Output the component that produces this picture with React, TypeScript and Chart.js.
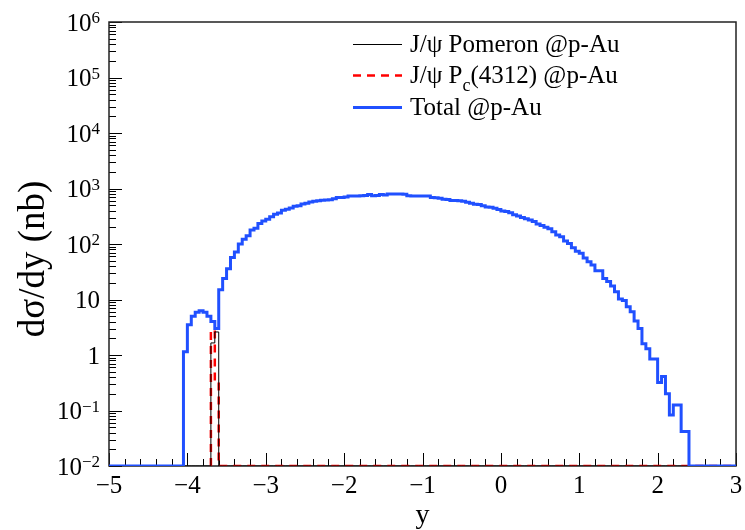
import React, { useEffect, useRef } from 'react';
import { Chart, registerables } from 'chart.js';

Chart.register(...registerables);

// ---------- data ----------
const BIN_START = -5;
const BIN_WIDTH = 0.05;
const Y_FLOOR = 0.01;
const Y_CEIL = 1e6;
const X_MIN = -5;
const X_MAX = 3;

// 160 bins, left edges -5.00 ... 2.95 (dσ/dy in nb)
const totalValues: number[] = [
  0, 0, 0, 0, 0, 0, 0, 0, 0, 0,
  0, 0, 0, 0, 0, 0, 0, 0, 0, 1.15,
  3.5, 5.0, 5.9, 6.3, 5.9, 5.0, 4.0, 3.0, 15, 24,
  36, 57, 72, 100, 122, 141, 178, 192, 233, 259,
  278, 309, 343, 362, 405, 422, 446, 480, 490, 526,
  540, 571, 587, 600, 615, 620, 625, 655, 685, 690,
  700, 730, 735, 735, 738, 745, 780, 740, 745, 780,
  760, 795, 795, 795, 795, 790, 740, 735, 735, 735,
  735, 730, 690, 680, 670, 640, 635, 610, 605, 600,
  590, 565, 545, 520, 515, 490, 465, 460, 440, 420,
  395, 385, 365, 335, 320, 300, 285, 270, 255, 230,
  215, 200, 188, 167, 145, 135, 113, 102, 86, 74,
  68, 56, 48, 42, 33, 33, 24, 21, 17.5, 13.8,
  10.2, 9.6, 7.4, 6.0, 4.1, 3.0, 1.6, 1.3, 0.85, 0.85,
  0.32, 0.41, 0.2, 0.083, 0.125, 0.125, 0.042, 0.042, 0, 0,
  0, 0, 0, 0, 0, 0, 0, 0, 0, 0,
];

const pomeronValues: number[] = [
  0, 0, 0, 0, 0, 0, 0, 0, 0, 0,
  0, 0, 0, 0, 0, 0, 0, 0, 0, 0,
  0, 0, 0, 0, 0, 0, 1.65, 2.6, 0, 0,
  0, 0, 0, 0, 0, 0, 0, 0, 0, 0,
  0, 0, 0, 0, 0, 0, 0, 0, 0, 0,
  0, 0, 0, 0, 0, 0, 0, 0, 0, 0,
  0, 0, 0, 0, 0, 0, 0, 0, 0, 0,
  0, 0, 0, 0, 0, 0, 0, 0, 0, 0,
  0, 0, 0, 0, 0, 0, 0, 0, 0, 0,
  0, 0, 0, 0, 0, 0, 0, 0, 0, 0,
  0, 0, 0, 0, 0, 0, 0, 0, 0, 0,
  0, 0, 0, 0, 0, 0, 0, 0, 0, 0,
  0, 0, 0, 0, 0, 0, 0, 0, 0, 0,
  0, 0, 0, 0, 0, 0, 0, 0, 0, 0,
  0, 0, 0, 0, 0, 0, 0, 0, 0, 0,
  0, 0, 0, 0, 0, 0, 0, 0, 0, 0,
];

const pcValues: (number | null)[] = [
  null, null, null, null, null, null, null, null, null, null,
  null, null, null, null, null, null, null, null, null, null,
  null, null, null, null, null, null, 2.8, 0.33, 0, 0,
  0, 0, 0, 0, 0, 0, 0, 0, 0, 0,
  0, 0, 0, 0, 0, 0, 0, 0, 0, 0,
  0, 0, 0, 0, 0, 0, 0, 0, 0, 0,
  0, 0, 0, 0, 0, 0, 0, 0, 0, 0,
  0, 0, 0, 0, 0, 0, 0, 0, 0, 0,
  0, 0, 0, 0, 0, 0, 0, 0, 0, 0,
  0, 0, 0, 0, 0, 0, 0, 0, 0, 0,
  0, 0, 0, 0, 0, 0, 0, 0, 0, 0,
  0, 0, 0, 0, 0, 0, 0, 0, 0, 0,
  0, 0, 0, 0, 0, 0, 0, 0, 0, 0,
  0, 0, 0, 0, 0, 0, 0, 0, 0, 0,
  0, 0, 0, 0, 0, 0, 0, 0, 0, 0,
  0, 0, 0, 0, 0, 0, 0, 0, 0, 0,
];

const xTickValues = [-5, -4, -3, -2, -1, 0, 1, 2, 3];
const xTickLabels = ['\u22125', '\u22124', '\u22123', '\u22122', '\u22121', '0', '1', '2', '3'];
const yTickValues = [1e-2, 1e-1, 1, 10, 1e2, 1e3, 1e4, 1e5, 1e6];
const yTickBase = ['10', '10', '1', '10', '10', '10', '10', '10', '10'];
const yTickExp = ['\u22122', '\u22121', '', '', '2', '3', '4', '5', '6'];

const xTitle = 'y';
const yTitle = 'dσ/dy (nb)';
const legendParts = [
  [{ t: 'J/ψ Pomeron @p-Au', sub: false }],
  [{ t: 'J/ψ P', sub: false }, { t: 'c', sub: true }, { t: '(4312) @p-Au', sub: false }],
  [{ t: 'Total @p-Au', sub: false }],
];

// ---------- styles ----------
const BLUE = 'rgb(32,80,255)';
const RED = '#ff0000';
const BLACK = '#000000';

function serif(px: number) {
  return px + 'px "Liberation Serif", serif';
}

function histPoints(vals: (number | null)[]) {
  const pts: { x: number; y: number | null }[] = [];
  let inRun = false;
  for (let i = 0; i < vals.length; i++) {
    const v = vals[i];
    const x = BIN_START + i * BIN_WIDTH;
    if (v === null) {
      if (inRun) {
        pts.push({ x, y: Y_FLOOR });
        pts.push({ x, y: null });
        inRun = false;
      }
      continue;
    }
    const y = Math.max(v, Y_FLOOR);
    if (!inRun) {
      pts.push({ x, y: Y_FLOOR });
      inRun = true;
    }
    pts.push({ x, y });
  }
  if (inRun) {
    const x = BIN_START + vals.length * BIN_WIDTH;
    const last = vals[vals.length - 1] as number;
    pts.push({ x, y: Math.max(last, Y_FLOOR) });
    pts.push({ x, y: Y_FLOOR });
  }
  return pts;
}

const rootPlugin = {
  id: 'rootStyle',
  beforeDatasetsDraw(chart: any) {
    const { ctx, chartArea: a, scales } = chart;
    const xs = scales.x;
    const ys = scales.y;
    ctx.save();
    ctx.strokeStyle = BLACK;
    ctx.lineWidth = 1;
    ctx.beginPath();
    for (let k = 0; k <= 40; k++) {
      const v = X_MIN + k * 0.2;
      const px = Math.round(xs.getPixelForValue(v)) + 0.5;
      const len = k % 5 === 0 ? 13 : 7;
      ctx.moveTo(px, a.bottom);
      ctx.lineTo(px, a.bottom - len);
    }
    for (let n = -2; n <= 6; n++) {
      for (let k = 1; k <= 9; k++) {
        const v = k * Math.pow(10, n);
        if (v > Y_CEIL * 1.0001) continue;
        const py = Math.round(ys.getPixelForValue(v)) + 0.5;
        const len = k === 1 ? 13 : 7;
        ctx.moveTo(a.left, py);
        ctx.lineTo(a.left + len, py);
      }
    }
    ctx.stroke();
    ctx.lineWidth = 1.5;
    ctx.strokeStyle = '#222';
    ctx.strokeRect(a.left, a.top, a.right - a.left, a.bottom - a.top);
    ctx.restore();
  },
  afterDraw(chart: any) {
    const { ctx, chartArea: a, scales } = chart;
    const xs = scales.x;
    const ys = scales.y;
    ctx.save();
    ctx.fillStyle = BLACK;
    ctx.textBaseline = 'alphabetic';
    ctx.font = serif(25);
    ctx.textAlign = 'center';
    xTickValues.forEach((v, i) => {
      ctx.fillText(xTickLabels[i], xs.getPixelForValue(v), 493);
    });
    yTickValues.forEach((v, i) => {
      const py = ys.getPixelForValue(v);
      let right = 100;
      ctx.textAlign = 'right';
      if (yTickExp[i]) {
        ctx.font = serif(17);
        ctx.fillText(yTickExp[i], right, py + 1);
        right -= ctx.measureText(yTickExp[i]).width;
      }
      ctx.font = serif(25);
      ctx.fillText(yTickBase[i], right, py + 8.5);
    });
    ctx.save();
    ctx.translate(44, 259);
    ctx.rotate(-Math.PI / 2);
    ctx.font = serif(37);
    ctx.textAlign = 'center';
    ctx.fillText(yTitle, 0, 0);
    ctx.restore();
    ctx.font = serif(28);
    ctx.textAlign = 'center';
    ctx.fillText(xTitle, (a.left + a.right) / 2, 523);
    const rowsY = [44, 75, 107];
    const styles = [
      { color: BLACK, width: 1, dash: [] as number[] },
      { color: RED, width: 2.5, dash: [8, 6] },
      { color: BLUE, width: 3, dash: [] as number[] },
    ];
    rowsY.forEach((y, i) => {
      const s = styles[i];
      ctx.save();
      ctx.strokeStyle = s.color;
      ctx.lineWidth = s.width;
      ctx.setLineDash(s.dash);
      ctx.beginPath();
      ctx.moveTo(353, y + 0.5);
      ctx.lineTo(402, y + 0.5);
      ctx.stroke();
      ctx.restore();
      let x = 410;
      ctx.textAlign = 'left';
      legendParts[i].forEach((p) => {
        if (p.sub) {
          ctx.font = serif(18);
          ctx.fillText(p.t, x, y + 16);
        } else {
          ctx.font = serif(25);
          ctx.fillText(p.t, x, y + 8);
        }
        x += ctx.measureText(p.t).width;
      });
    });
    ctx.restore();
  },
};

export default function App() {
  const ref = useRef<HTMLCanvasElement>(null);
  useEffect(() => {
    document.body.style.margin = '0';
    const chart = new Chart(ref.current as HTMLCanvasElement, {
      type: 'line',
      data: {
        datasets: [
          {
            label: 'Total @p-Au',
            data: histPoints(totalValues) as any,
            borderColor: BLUE,
            borderWidth: 3,
            stepped: 'before',
            pointRadius: 0,
            fill: false,
          },
          {
            label: 'J/ψ Pomeron @p-Au',
            data: histPoints(pomeronValues) as any,
            borderColor: BLACK,
            borderWidth: 1,
            stepped: 'before',
            pointRadius: 0,
            fill: false,
          },
          {
            label: 'J/ψ Pc(4312) @p-Au',
            data: histPoints(pcValues) as any,
            borderColor: RED,
            borderWidth: 2.5,
            borderDash: [8, 6],
            stepped: 'before',
            pointRadius: 0,
            fill: false,
          },
        ],
      },
      options: {
        animation: false,
        responsive: false,
        layout: { padding: { left: 109, right: 9, top: 22, bottom: 64 } },
        elements: { line: { tension: 0, borderJoinStyle: 'miter', borderCapStyle: 'butt' } },
        scales: {
          x: { type: 'linear', min: X_MIN, max: X_MAX, display: false },
          y: { type: 'logarithmic', min: Y_FLOOR, max: Y_CEIL, display: false },
        },
        plugins: { legend: { display: false }, tooltip: { enabled: false } },
      },
      plugins: [rootPlugin],
    });
    return () => chart.destroy();
  }, []);
  return (
    <div style={{ position: 'absolute', left: 0, top: 0, width: 745, height: 530, background: '#fff' }}>
      <canvas ref={ref} width={745} height={530} style={{ display: 'block' }} />
    </div>
  );
}
